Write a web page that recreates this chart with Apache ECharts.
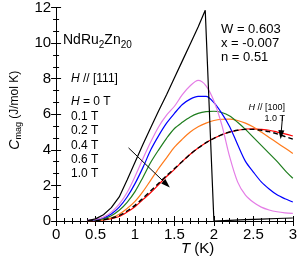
<!DOCTYPE html>
<html><head><meta charset="utf-8">
<script src="https://cdn.jsdelivr.net/npm/echarts@6/dist/echarts.min.js"></script>
<style>html,body{margin:0;padding:0;background:#fff}#c{width:300px;height:256px}</style>
</head><body><div id="c"></div>
<script>
// ---- data ----
var T = [0.4,0.5,0.6,0.7,0.8,0.9,1.0,1.1,1.2,1.3,1.4,1.5,1.6,1.7,1.8,1.9,2.0,2.1,2.2,2.3,2.4,2.5,2.6,2.7,2.8,2.9,3.0];
var T_H0 = [0.4,0.5,0.6,0.7,0.8,0.9,1.0,1.1,1.2,1.3,1.4,1.5,1.6,1.7,1.8,1.89,2.0,2.2,2.4,2.6,2.8,3.0];
var C_H0 = [0.03,0.12,0.35,0.75,1.35,2.3,3.3,4.3,5.25,6.2,7.1,8.05,9.0,9.95,10.9,11.85,0.0,0.04,0.08,0.11,0.14,0.17];
var C_01 = [0.03,0.09,0.22,0.5,0.95,1.6,2.5,3.5,4.45,5.3,5.95,6.45,7.1,7.6,7.9,7.6,6.75,5.4,3.6,2.2,1.45,1.05,0.78,0.62,0.52,0.46,0.43];
var C_02 = [0.02,0.07,0.18,0.4,0.78,1.35,2.1,3.0,4.0,4.8,5.5,6.05,6.55,6.85,7.0,7.0,6.65,6.05,5.3,4.3,3.35,2.75,2.2,1.8,1.47,1.25,1.07];
var C_04 = [0.02,0.05,0.13,0.3,0.6,1.05,1.65,2.45,3.3,4.0,4.65,5.2,5.55,5.85,6.05,6.15,6.17,6.1,5.9,5.55,5.15,4.7,4.25,3.8,3.35,2.85,2.4];
var C_06 = [0.01,0.03,0.08,0.18,0.38,0.7,1.1,1.65,2.3,2.95,3.55,4.15,4.6,5.0,5.3,5.5,5.65,5.72,5.73,5.65,5.5,5.28,5.0,4.7,4.4,4.1,3.8];
var C_10 = [0.0,0.02,0.06,0.13,0.25,0.5,0.8,1.2,1.6,2.05,2.5,2.9,3.35,3.75,4.1,4.4,4.65,4.85,5.0,5.1,5.17,5.18,5.15,5.1,5.0,4.9,4.78];
var C_100 = [0.0,0.02,0.07,0.16,0.3,0.56,0.88,1.28,1.7,2.12,2.55,2.95,3.35,3.75,4.1,4.4,4.65,4.85,5.0,5.1,5.15,5.15,5.1,5.02,4.9,4.75,4.6];
var xTicks = [0,0.5,1,1.5,2,2.5,3];
var yTicks = [0,2,4,6,8,10,12];
var fieldLabels = ['H = 0 T','0.1 T','0.2 T','0.4 T','0.6 T','1.0 T'];
var params = ['W = 0.603','x = -0.007','n = 0.51'];

function pairs(xs, ys){ return xs.map(function(x,i){ return [x, ys[i]]; }); }

var FONT = 'Liberation Sans';
var chart = echarts.init(document.getElementById('c'), null, {renderer:'canvas'});

function axisCommon(showLabel){
  return {
    axisLine:{show:true, lineStyle:{color:'#000', width:1}},
    axisTick:{show:true, inside:true, length:5, lineStyle:{color:'#000', width:1}},
    minorTick:{show:true, length:3, lineStyle:{color:'#000', width:1}},
    splitLine:{show:false},
    axisLabel:{show:showLabel, color:'#000', fontFamily:FONT, fontSize:15}
  };
}

function line(name, data, color, extra){
  var s = {name:name, type:'line', data:data, showSymbol:false, symbol:'none', smooth:0.3,
    lineStyle:{color:color, width:1.2}, z:3, animation:false};
  if (extra) for (var k in extra) s[k]=extra[k];
  return s;
}

var xb = Object.assign(axisCommon(true), {type:'value', min:0, max:3, interval:0.5, position:'bottom',
  minorTick:{show:true, splitNumber:5, length:3, lineStyle:{color:'#000'}}});
xb.axisLabel.margin = 6;
var xt = Object.assign(axisCommon(false), {type:'value', min:0, max:3, interval:0.5, position:'top',
  minorTick:{show:true, splitNumber:5, length:3, lineStyle:{color:'#000'}}});
var yl = Object.assign(axisCommon(true), {type:'value', min:0, max:12, interval:2, position:'left',
  minorTick:{show:true, splitNumber:3, length:3, lineStyle:{color:'#000'}},
  name:'{i|C}{s|mag} {n|(J/mol K)}', nameLocation:'middle', nameGap:27, nameRotate:90,
  nameTextStyle:{color:'#000', fontFamily:FONT, fontSize:12, padding:[0,0,0,8],
    rich:{i:{fontStyle:'italic', fontSize:14, fontFamily:FONT, color:'#000'},
          s:{fontSize:9, fontFamily:FONT, color:'#000', padding:[8,0,0,0]},
          n:{fontSize:12, fontFamily:FONT, color:'#000'}}}});
yl.axisLabel.margin = 5;
var yr = Object.assign(axisCommon(false), {type:'value', min:0, max:12, interval:2, position:'right',
  minorTick:{show:true, splitNumber:3, length:3, lineStyle:{color:'#000'}}});

var graphics = [
  {type:'text', left:63, top:33, style:{text:'NdRu{s|2}Zn{s|20}', fontFamily:FONT, fontSize:14, fill:'#000',
    rich:{s:{fontSize:10, fontFamily:FONT, fill:'#000', padding:[10,0,0,0]}}}},
  {type:'text', left:71, top:73, style:{text:'{i|H} // [111]', fontFamily:FONT, fontSize:12, fill:'#000',
    rich:{i:{fontStyle:'italic', fontSize:12, fontFamily:FONT, fill:'#000'}}}},
  {type:'text', left:181, top:241, style:{text:'{i|T} (K)', fontFamily:FONT, fontSize:15, fill:'#000',
    rich:{i:{fontStyle:'italic', fontSize:15, fontFamily:FONT, fill:'#000'}}}},
  {type:'text', right:15, top:103, style:{text:'{i|H} // [100]', fontFamily:FONT, fontSize:9, fill:'#000',
    rich:{i:{fontStyle:'italic', fontSize:9, fontFamily:FONT, fill:'#000'}}}},
  {type:'text', right:15, top:114, style:{text:'1.0 T', fontFamily:FONT, fontSize:9, fill:'#000'}}
];
fieldLabels.forEach(function(t, i){
  var txt = i===0 ? '{i|H} = 0 T' : t;
  graphics.push({type:'text', left:71, top:96 + i*14.4, style:{text:txt, fontFamily:FONT, fontSize:12, fill:'#000',
    rich:{i:{fontStyle:'italic', fontSize:12, fontFamily:FONT, fill:'#000'}}}});
});
params.forEach(function(t, i){
  graphics.push({type:'text', left:221, top:23 + i*14, style:{text:t, fontFamily:FONT, fontSize:13, fill:'#000'}});
});

var option = {
  animation:false,
  grid:{left:41, right:4, top:5, bottom:35, containLabel:false},
  xAxis:[xb, xt],
  yAxis:[yl, yr],
  graphic:graphics,
  series:[
    line('1.0 T', pairs(T, C_10), '#ff0000'),
    line('0.6 T', pairs(T, C_06), '#ff7a1a'),
    line('0.4 T', pairs(T, C_04), '#1e7d1e'),
    line('0.2 T', pairs(T, C_02), '#0000ff'),
    line('0.1 T', pairs(T, C_01), '#e47de6'),
    line('H//[100] 1.0 T', pairs(T, C_100), '#000000', {lineStyle:{color:'#000', width:1.4, type:[5,3]}, z:4,
      markLine:{silent:true, symbol:['none','triangle'], symbolSize:[6,9], symbolRotate:null, label:{show:false},
        lineStyle:{color:'#000', width:1, type:'solid'},
        data:[
          [{coord:[0.918,4.11]},{coord:[1.4,2.06]}],
          [{coord:[2.87,5.9]},{coord:[2.85,4.85]}]
        ]}}),
    line('H = 0 T', pairs(T_H0, C_H0), '#000000', {smooth:false, lineStyle:{color:'#000', width:1.2}})
  ]
};
chart.setOption(option);
</script></body></html>
